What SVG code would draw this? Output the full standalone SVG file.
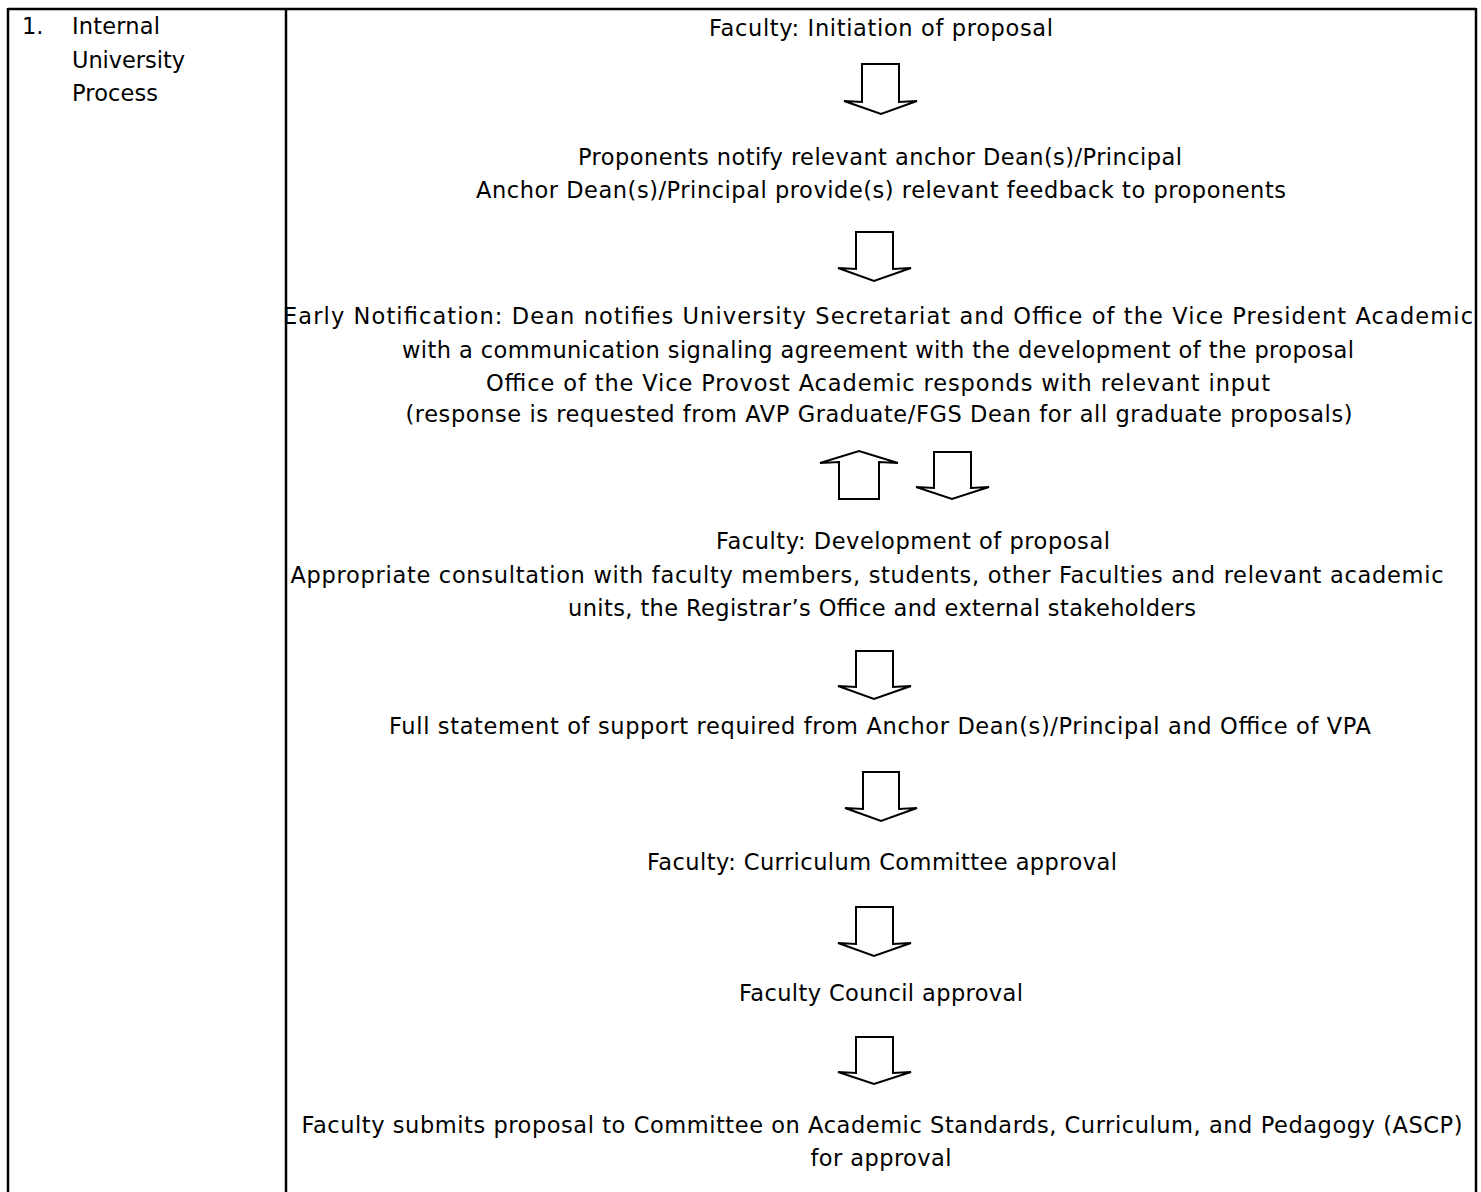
<svg xmlns="http://www.w3.org/2000/svg" width="1481" height="1192" viewBox="0 0 1481 1192">
<style>
text{font-family:"DejaVu Sans","Liberation Sans",sans-serif;font-size:22.5px;fill:#000}
.c{text-anchor:middle}
.arrow{fill:#fff;stroke:#000;stroke-width:2;stroke-linejoin:miter}
.grid{stroke:#000;stroke-width:2.5;fill:none}
</style>
<rect width="1481" height="1192" fill="#fff"/>
<g id="table">
<line class="grid" x1="8" y1="9" x2="1476" y2="9"/>
<line class="grid" x1="8" y1="8" x2="8" y2="1192"/>
<line class="grid" x1="286" y1="8" x2="286" y2="1192"/>
<line class="grid" x1="1476" y1="8" x2="1476" y2="1192"/>
</g>
<g id="label">
<text x="22" y="34">1.</text>
<text x="72" y="34" textLength="88" lengthAdjust="spacing">Internal</text>
<text x="72" y="68" textLength="113" lengthAdjust="spacing">University</text>
<text x="72" y="101" textLength="86" lengthAdjust="spacing">Process</text>
</g>
<g id="n1"><text class="c" x="881" y="36" textLength="344" lengthAdjust="spacing">Faculty: Initiation of proposal</text></g>
<g id="n2">
<text class="c" x="880" y="165" textLength="604" lengthAdjust="spacing">Proponents notify relevant anchor Dean(s)/Principal</text>
<text class="c" x="881" y="198" textLength="810" lengthAdjust="spacing">Anchor Dean(s)/Principal provide(s) relevant feedback to proponents</text>
</g>
<g id="n3">
<text class="c" x="878" y="324" textLength="1190" lengthAdjust="spacing">Early Notification: Dean notifies University Secretariat and Office of the Vice President Academic</text>
<text class="c" x="878" y="358" textLength="952" lengthAdjust="spacing">with a communication signaling agreement with the development of the proposal</text>
<text class="c" x="878" y="391" textLength="784" lengthAdjust="spacing">Office of the Vice Provost Academic responds with relevant input</text>
<text class="c" x="879" y="422" textLength="947" lengthAdjust="spacing">(response is requested from AVP Graduate/FGS Dean for all graduate proposals)</text>
</g>
<g id="n4">
<text class="c" x="913" y="549" textLength="394" lengthAdjust="spacing">Faculty: Development of proposal</text>
<text class="c" x="867" y="583" textLength="1153" lengthAdjust="spacing">Appropriate consultation with faculty members, students, other Faculties and relevant academic</text>
<text class="c" x="882" y="616" textLength="628" lengthAdjust="spacing">units, the Registrar’s Office and external stakeholders</text>
</g>
<g id="n5"><text class="c" x="880" y="734" textLength="982" lengthAdjust="spacing">Full statement of support required from Anchor Dean(s)/Principal and Office of VPA</text></g>
<g id="n6"><text class="c" x="882" y="870" textLength="470" lengthAdjust="spacing">Faculty: Curriculum Committee approval</text></g>
<g id="n7"><text class="c" x="881" y="1001" textLength="284" lengthAdjust="spacing">Faculty Council approval</text></g>
<g id="n8">
<text class="c" x="882" y="1133" textLength="1161" lengthAdjust="spacing">Faculty submits proposal to Committee on Academic Standards, Curriculum, and Pedagogy (ASCP)</text>
<text class="c" x="881" y="1166" textLength="141" lengthAdjust="spacing">for approval</text>
</g>
<g id="connectors">
<polygon class="arrow" points="862,64 899,64 899,102 917,101 881,114 844,101 862,102"/>
<polygon class="arrow" points="856,232 893,232 893,269 911,268 874,281 838,268 856,269"/>
<polygon class="arrow" points="839,499 879,499 879,462 898,463 859,451 820,463 839,462"/>
<polygon class="arrow" points="934,452 971,452 971,488 989,487 952,499 916,487 934,488"/>
<polygon class="arrow" points="856,651 893,651 893,687 911,686 874,699 838,686 856,687"/>
<polygon class="arrow" points="863,772 899,772 899,809 917,808 881,821 845,808 863,809"/>
<polygon class="arrow" points="856,907 893,907 893,944 911,943 874,956 838,943 856,944"/>
<polygon class="arrow" points="856,1037 893,1037 893,1073 911,1072 874,1084 838,1072 856,1073"/>
</g>
</svg>
